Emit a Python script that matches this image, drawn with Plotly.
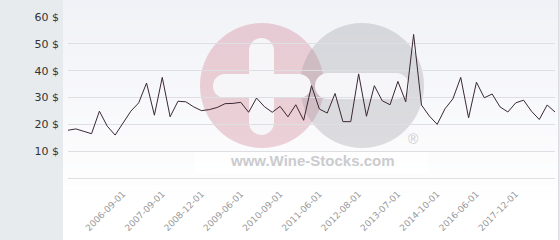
import plotly.graph_objects as go

# ---- data ----
prices = [17.8, 18.3, 17.4, 16.5, 24.9, 19.3, 16.0, 20.3, 24.9, 28.0,
          35.4, 23.4, 37.5, 22.8, 28.6, 28.4, 26.5, 25.1, 25.5, 26.3,
          27.7, 27.8, 28.2, 24.5, 29.8, 26.6, 24.5, 26.7, 22.8, 27.3,
          21.5, 34.4, 25.7, 24.2, 31.5, 21.0, 21.0, 38.8, 23.0, 34.4,
          28.8, 27.3, 36.0, 28.4, 53.5, 27.2, 23.1, 20.0, 25.8, 29.5,
          37.5, 22.4, 35.7, 29.9, 31.3, 26.5, 24.6, 28.0, 29.0, 24.9,
          21.8, 27.2, 24.6]
tick_labels = ["2006-09-01", "2007-09-01", "2008-12-01", "2009-06-01",
               "2010-09-01", "2011-06-01", "2012-08-01", "2013-07-01",
               "2014-10-01", "2016-06-01", "2017-12-01"]
tick_index = [7, 12, 17, 22, 27, 32, 37, 42, 47, 52, 57]
y_ticks = [10, 20, 30, 40, 50, 60]

x_idx = list(range(len(prices)))

# ---- layout geometry (pixels) ----
L, R, T, B = 68, 555, 17, 178
W, H = R - L, B - T


def px(x):
    return (x - L) / W


def py(y):
    return (B - y) / H


shapes = []

# gradient background panel
top_c = (241, 242, 247)
bot_c = (255, 255, 255)
n = 30
y_end = 205
for i in range(n):
    y0 = i * y_end / n
    y1 = (i + 1) * y_end / n
    t = (i + 0.5) / n
    c = tuple(int(round(top_c[k] + (bot_c[k] - top_c[k]) * t)) for k in range(3))
    shapes.append(dict(type="rect", xref="paper", yref="paper",
                       x0=px(63), x1=px(558.5), y0=py(y1 + 0.5), y1=py(y0),
                       fillcolor="rgb(%d,%d,%d)" % c, line_width=0, layer="below"))
shapes.append(dict(type="rect", xref="paper", yref="paper",
                   x0=px(63), x1=px(558.5), y0=py(240), y1=py(y_end),
                   fillcolor="white", line_width=0, layer="below"))
# right border line
shapes.append(dict(type="line", xref="paper", yref="paper",
                   x0=px(558.5), x1=px(558.5), y0=py(240), y1=py(0),
                   line=dict(color="#dcdde2", width=1), layer="below"))

# watermark circles
shapes.append(dict(type="circle", xref="paper", yref="paper",
                   x0=px(200), x1=px(324), y0=py(148), y1=py(23),
                   fillcolor="rgba(205,120,140,0.33)", line_width=0, layer="below"))
shapes.append(dict(type="circle", xref="paper", yref="paper",
                   x0=px(300), x1=px(424), y0=py(148), y1=py(23),
                   fillcolor="rgba(150,150,155,0.30)", line_width=0, layer="below"))

wm_white = "rgb(246,246,249)"


def pill(x0, x1, y0, y1, vertical=False):
    out = []
    if vertical:
        r = (x1 - x0) / 2
        out.append(dict(type="rect", xref="paper", yref="paper",
                        x0=px(x0), x1=px(x1), y0=py(y1 - r), y1=py(y0 + r),
                        fillcolor=wm_white, line_width=0, layer="below"))
        for cy in (y0 + r, y1 - r):
            out.append(dict(type="circle", xref="paper", yref="paper",
                            x0=px(x0), x1=px(x1), y0=py(cy + r), y1=py(cy - r),
                            fillcolor=wm_white, line_width=0, layer="below"))
    else:
        r = (y1 - y0) / 2
        out.append(dict(type="rect", xref="paper", yref="paper",
                        x0=px(x0 + r), x1=px(x1 - r), y0=py(y1), y1=py(y0),
                        fillcolor=wm_white, line_width=0, layer="below"))
        for cx in (x0 + r, x1 - r):
            out.append(dict(type="circle", xref="paper", yref="paper",
                            x0=px(cx - r), x1=px(cx + r), y0=py(y1), y1=py(y0),
                            fillcolor=wm_white, line_width=0, layer="below"))
    return out


shapes += pill(249, 274, 38, 135, vertical=True)
shapes += pill(213, 311, 74, 98)
shapes += pill(315, 409, 73, 99)

# faint white box behind watermark text
shapes.append(dict(type="rect", xref="paper", yref="paper",
                   x0=px(195), x1=px(428), y0=py(173), y1=py(152),
                   fillcolor="rgba(255,255,255,0.7)", line_width=0, layer="below"))

annotations = [
    dict(text="<b>www.Wine-Stocks.com</b>", xref="paper", yref="paper",
         x=px(312), y=py(160), showarrow=False, xanchor="center", yanchor="middle",
         font=dict(family="Liberation Sans", size=15, color="#cbcbce")),
    dict(text="®", xref="paper", yref="paper",
         x=px(413), y=py(139), showarrow=False, xanchor="center", yanchor="middle",
         font=dict(family="Liberation Sans", size=14, color="#cbcbce")),
]

fig = go.Figure()
fig.add_trace(go.Scatter(
    x=x_idx, y=prices, mode="lines",
    line=dict(color="#3a2833", width=1),
    hoverinfo="skip", showlegend=False,
))

fig.update_layout(
    width=560, height=240,
    margin=dict(l=L, r=560 - R, t=T, b=240 - B, pad=0),
    paper_bgcolor="#e7ebee",
    plot_bgcolor="rgba(0,0,0,0)",
    shapes=shapes,
    annotations=annotations,
    showlegend=False,
    xaxis=dict(
        range=[0, len(prices) - 1],
        tickmode="array", tickvals=tick_index, ticktext=tick_labels,
        tickangle=-45, showgrid=False, zeroline=False, showline=False,
        ticks="", ticklabelstandoff=8,
        tickfont=dict(family="DejaVu Sans", size=9, color="#9a9a9a"),
    ),
    yaxis=dict(
        range=[0, 60],
        tickmode="array", tickvals=y_ticks,
        ticktext=["%d $" % v for v in y_ticks],
        showgrid=True, gridcolor="#dedfe3", gridwidth=1,
        zeroline=True, zerolinecolor="#dedfe3", zerolinewidth=1,
        showline=False, ticks="", ticklabelstandoff=8,
        tickfont=dict(family="DejaVu Sans", size=11, color="#333333"),
    ),
)

fig.write_html("out.html")
